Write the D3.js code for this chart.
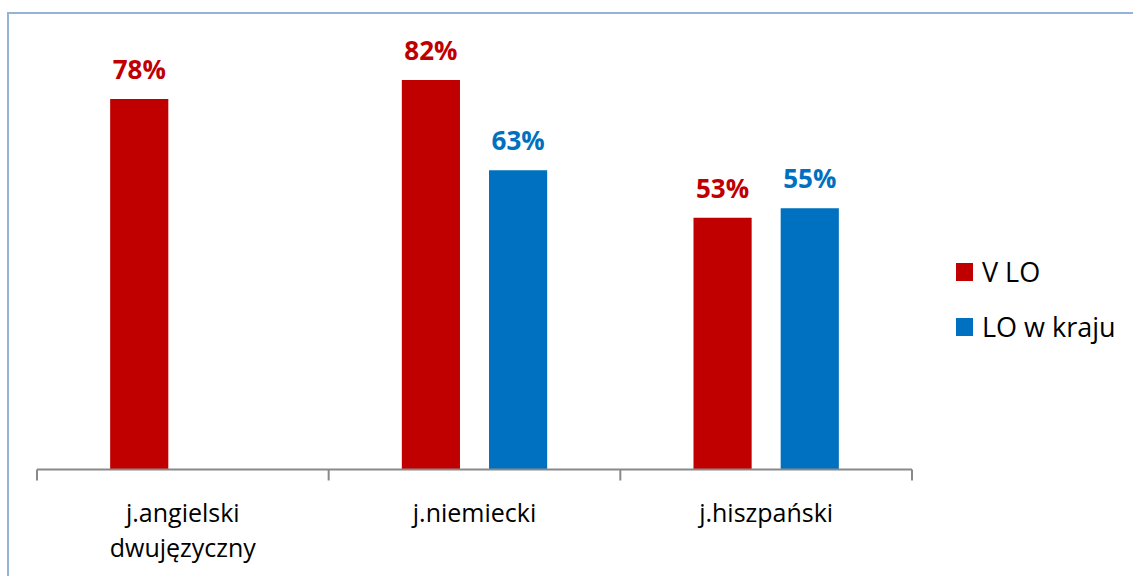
<!DOCTYPE html>
<html>
<head>
<meta charset="utf-8">
<script src="https://cdn.jsdelivr.net/npm/d3@7"></script>
<style>
  html, body { margin: 0; padding: 0; background: #ffffff; }
  svg { display: block; }
  text { font-family: "Open Sans", "Noto Sans", sans-serif; }
</style>
</head>
<body>
<svg id="chart" width="1133" height="576"></svg>
<script>
const categories = [["j.angielski", "dwujęzyczny"], ["j.niemiecki"], ["j.hiszpański"]];
const seriesNames = ["V LO", "LO w kraju"];
const vLO = [78, 82, 53];
const loKraj = [null, 63, 55];
const seriesColors = ["#C00000", "#0070C0"];

const svg = d3.select("#chart");
const plot = { left: 37, right: 912, top: 42, base: 469.5 };

// chart frame
svg.append("rect")
  .attr("x", 8).attr("y", 13)
  .attr("width", 1300).attr("height", 800)
  .attr("fill", "none")
  .attr("stroke", "#95B3D7")
  .attr("stroke-width", 2);

const catKeys = categories.map(c => c.join(" "));
const x = d3.scaleBand().domain(catKeys).range([plot.left, plot.right]).paddingInner(0).paddingOuter(0);
const xs = d3.scaleBand().domain(seriesNames).range([0, x.bandwidth()]).paddingInner(0.333).paddingOuter(0.839);
const y = d3.scaleLinear().domain([0, 90]).range([plot.base, plot.top]);

const seriesData = [vLO, loKraj];
const rows = [];
seriesData.forEach((vals, si) => {
  vals.forEach((v, ci) => {
    if (v !== null) rows.push({ s: seriesNames[si], si, c: catKeys[ci], v });
  });
});

const g = svg.append("g");
g.selectAll("rect.bar").data(rows).enter().append("rect")
  .attr("class", "bar")
  .attr("x", d => x(d.c) + xs(d.s))
  .attr("y", d => y(d.v))
  .attr("width", xs.bandwidth())
  .attr("height", d => y(0) - y(d.v))
  .attr("fill", d => seriesColors[d.si]);

g.selectAll("text.val").data(rows).enter().append("text")
  .attr("class", "val")
  .attr("x", d => x(d.c) + xs(d.s) + xs.bandwidth() / 2)
  .attr("y", d => y(d.v) - 20)
  .attr("text-anchor", "middle")
  .attr("font-weight", "bold")
  .attr("font-size", 26)
  .attr("fill", d => seriesColors[d.si])
  .text(d => d.v + "%");

// axis line and ticks at category boundaries
const axisColor = "#898989";
svg.append("line")
  .attr("x1", plot.left).attr("x2", plot.right)
  .attr("y1", plot.base).attr("y2", plot.base)
  .attr("stroke", axisColor).attr("stroke-width", 2);
const tickXs = catKeys.map(k => x(k)).concat([x.range()[1]]);
svg.selectAll("line.tick").data(tickXs).enter().append("line")
  .attr("class", "tick")
  .attr("x1", d => d).attr("x2", d => d)
  .attr("y1", plot.base).attr("y2", plot.base + 11)
  .attr("stroke", axisColor).attr("stroke-width", 2);

// category labels
categories.forEach((lines, i) => {
  const t = svg.append("text")
    .attr("x", x(catKeys[i]) + x.bandwidth() / 2)
    .attr("y", 522)
    .attr("text-anchor", "middle")
    .attr("font-size", 25)
    .attr("fill", "#000000");
  lines.forEach((ln, j) => {
    t.append("tspan")
      .attr("x", x(catKeys[i]) + x.bandwidth() / 2)
      .attr("dy", j === 0 ? 0 : 34.5)
      .text(ln);
  });
});

// legend
const legend = svg.append("g").attr("transform", "translate(956,263)");
seriesNames.forEach((name, i) => {
  const row = legend.append("g").attr("transform", `translate(0,${i * 55})`);
  row.append("rect").attr("width", 17).attr("height", 18).attr("fill", seriesColors[i]);
  row.append("text").attr("x", 26).attr("y", 19)
    .attr("font-size", 27).attr("fill", "#000000").text(name);
});
</script>
</body>
</html>
